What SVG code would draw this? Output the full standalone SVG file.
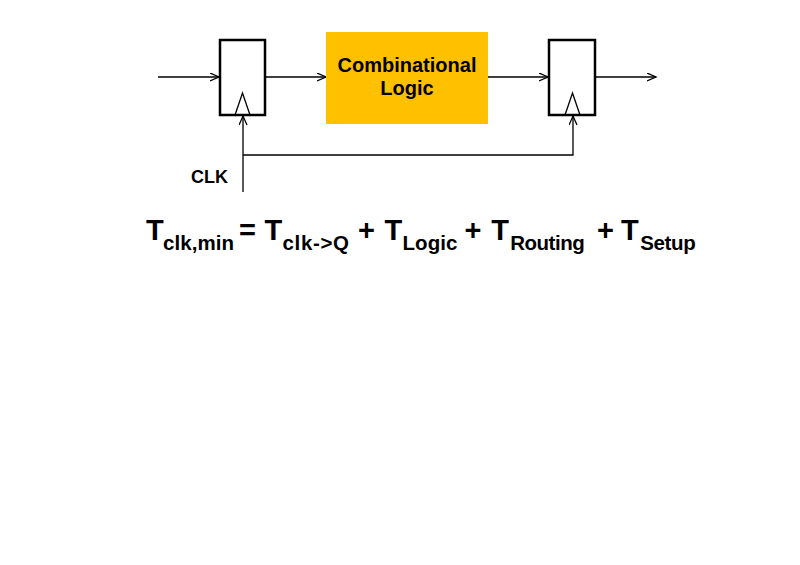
<svg xmlns="http://www.w3.org/2000/svg" width="800" height="565" viewBox="0 0 800 565">
<defs>
<marker id="arr" markerUnits="userSpaceOnUse" markerWidth="12" markerHeight="10" refX="9.5" refY="4.5" orient="auto">
<path d="M0.5,0.5 L9.5,4.5 L0.5,8.5" fill="none" stroke="#000" stroke-width="1.3"/>
</marker>
</defs>
<style>
.reg{fill:#fff;stroke:#000;stroke-width:2.5}
.clk{fill:none;stroke:#000;stroke-width:1.3}
.wire{fill:none;stroke:#000;stroke-width:1.3;marker-end:url(#arr)}
.t{font-family:"Liberation Sans",Arial,sans-serif;font-weight:bold;fill:#000}
.big{font-size:29px}
.sub{font-size:20.5px}
</style>
<rect width="800" height="565" fill="#fff"/>
<g id="connectors">
<line class="wire" x1="158" y1="77" x2="219" y2="77"/>
<line class="wire" x1="266" y1="77" x2="326" y2="77"/>
<line class="wire" x1="488" y1="77" x2="548" y2="77"/>
<line class="wire" x1="596" y1="77" x2="656" y2="77"/>
<line class="wire" x1="243" y1="192" x2="243" y2="116"/>
<polyline class="wire" points="243,155 573,155 573,116"/>
</g>
<g id="reg1">
<rect class="reg" x="220" y="40" width="45" height="75"/>
<polyline class="clk" points="235,115 242.5,93 250,115"/>
</g>
<g id="logic">
<rect x="326" y="32" width="162" height="92" fill="#FFC000"/>
<text class="t" x="407" y="72" font-size="20" text-anchor="middle">Combinational</text>
<text class="t" x="407" y="95" font-size="20" text-anchor="middle">Logic</text>
</g>
<g id="reg2">
<rect class="reg" x="549" y="40" width="46" height="75"/>
<polyline class="clk" points="565,115 572.5,93 580,115"/>
</g>
<g id="clk-label">
<text class="t" x="191" y="183" font-size="18">CLK</text>
</g>
<g id="equation">
<text class="t big" x="146" y="240">T</text>
<text class="t sub" x="163" y="250" textLength="71">clk,min</text>
<text class="t big" x="239" y="240">=</text>
<text class="t big" x="264.5" y="240">T</text>
<text class="t sub" x="282.5" y="250" textLength="66.5">clk-&gt;Q</text>
<text class="t big" x="358" y="240">+</text>
<text class="t big" x="384.4" y="240">T</text>
<text class="t sub" x="402.5" y="250" textLength="55">Logic</text>
<text class="t big" x="464.5" y="240">+</text>
<text class="t big" x="491.2" y="240">T</text>
<text class="t sub" x="510.2" y="250" textLength="74.5">Routing</text>
<text class="t big" x="597" y="240">+</text>
<text class="t big" x="621" y="240">T</text>
<text class="t sub" x="640.2" y="250" textLength="55.5">Setup</text>
</g>
</svg>
